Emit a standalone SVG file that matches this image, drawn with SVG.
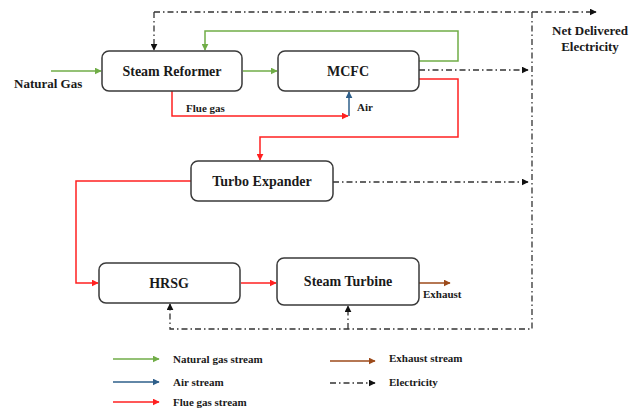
<svg xmlns="http://www.w3.org/2000/svg" width="642" height="411" viewBox="0 0 642 411">
  <style>
    .box { fill: #fff; stroke: #3a3a3a; stroke-width: 1.5; }
    .lbl { font-family: "Liberation Serif", "Times New Roman", serif; font-weight: bold; fill: #1a1a1a; }
    .big { font-size: 14px; text-anchor: middle; }
    .sm { font-size: 11px; }
    .ng { fill: none; stroke: #70ad47; stroke-width: 1.5; }
    .air { fill: none; stroke: #2e5f8a; stroke-width: 1.5; }
    .flue { fill: none; stroke: #ff2020; stroke-width: 1.5; }
    .exh { fill: none; stroke: #9c4a1a; stroke-width: 1.5; }
    .el { fill: none; stroke: #333; stroke-width: 1.3; stroke-dasharray: 6 3 1.5 3; }
  </style>
  <defs>
    <marker id="mNg" viewBox="0 0 10 10" refX="9" refY="5" markerWidth="7" markerHeight="7" markerUnits="userSpaceOnUse" orient="auto"><path d="M0,0 L10,5 L0,10 z" fill="#70ad47"/></marker>
    <marker id="mAir" viewBox="0 0 10 10" refX="9" refY="5" markerWidth="7" markerHeight="7" markerUnits="userSpaceOnUse" orient="auto"><path d="M0,0 L10,5 L0,10 z" fill="#2e5f8a"/></marker>
    <marker id="mFlue" viewBox="0 0 10 10" refX="9" refY="5" markerWidth="7" markerHeight="7" markerUnits="userSpaceOnUse" orient="auto"><path d="M0,0 L10,5 L0,10 z" fill="#ff2020"/></marker>
    <marker id="mExh" viewBox="0 0 10 10" refX="9" refY="5" markerWidth="7" markerHeight="7" markerUnits="userSpaceOnUse" orient="auto"><path d="M0,0 L10,5 L0,10 z" fill="#9c4a1a"/></marker>
    <marker id="mEl" viewBox="0 0 10 10" refX="9" refY="5" markerWidth="7" markerHeight="7" markerUnits="userSpaceOnUse" orient="auto"><path d="M0,0 L10,5 L0,10 z" fill="#111"/></marker>
  </defs>

  <!-- connectors -->
  <g id="connectors">
    <!-- natural gas -->
    <path class="ng" d="M51,71 H101" marker-end="url(#mNg)"/>
    <path class="ng" d="M243,71 H277" marker-end="url(#mNg)"/>
    <path class="ng" d="M419,61 H458 V31 H205 V50" marker-end="url(#mNg)"/>
    <!-- flue gas -->
    <path class="flue" d="M172,91 V116 H348" marker-end="url(#mFlue)"/>
    <path class="flue" d="M419,79 H458 V137 H260 V160" marker-end="url(#mFlue)"/>
    <path class="flue" d="M191,181 H76 V283 H98" marker-end="url(#mFlue)"/>
    <path class="flue" d="M241,283 H276" marker-end="url(#mFlue)"/>
    <!-- air -->
    <path class="air" d="M349,116 V92" marker-end="url(#mAir)"/>
    <!-- exhaust -->
    <path class="exh" d="M419,283 H450" marker-end="url(#mExh)"/>
    <!-- electricity -->
    <path class="el" d="M154,12 H596" marker-end="url(#mEl)"/>
    <path class="el" d="M154,12 V50" marker-end="url(#mEl)"/>
    <path class="el" d="M419,70 H528" marker-end="url(#mEl)"/>
    <path class="el" d="M333,182 H528" marker-end="url(#mEl)"/>
    <path class="el" d="M532,12 V329 H170 V304" marker-end="url(#mEl)"/>
    <path class="el" d="M348,329 V306" marker-end="url(#mEl)"/>
  </g>

  <!-- nodes -->
  <g id="steam-reformer">
    <rect class="box" x="102" y="51" width="140" height="40" rx="7"/>
    <text class="lbl big" x="172" y="76">Steam Reformer</text>
  </g>
  <g id="mcfc">
    <rect class="box" x="278" y="51" width="141" height="40" rx="7"/>
    <text class="lbl big" x="348" y="76">MCFC</text>
  </g>
  <g id="turbo-expander">
    <rect class="box" x="191" y="161" width="142" height="40" rx="7"/>
    <text class="lbl big" x="262" y="186">Turbo Expander</text>
  </g>
  <g id="hrsg">
    <rect class="box" x="99" y="263" width="141" height="40" rx="7"/>
    <text class="lbl big" x="169" y="288">HRSG</text>
  </g>
  <g id="steam-turbine">
    <rect class="box" x="277" y="258" width="142" height="47" rx="7"/>
    <text class="lbl big" x="348" y="286">Steam Turbine</text>
  </g>

  <!-- stream labels -->
  <text class="lbl" x="14" y="88" font-size="13">Natural Gas</text>
  <text class="lbl sm" x="186" y="112">Flue gas</text>
  <text class="lbl sm" x="357" y="111">Air</text>
  <text class="lbl sm" x="423" y="298">Exhaust</text>
  <text class="lbl" x="590" y="35" font-size="13" text-anchor="middle">Net Delivered</text>
  <text class="lbl" x="590" y="51" font-size="13" text-anchor="middle">Electricity</text>

  <!-- legend -->
  <g id="legend">
    <path class="ng" d="M113,359 H159" marker-end="url(#mNg)"/>
    <text class="lbl sm" x="173" y="363">Natural gas stream</text>
    <path class="air" d="M113,382 H159" marker-end="url(#mAir)"/>
    <text class="lbl sm" x="173" y="386">Air stream</text>
    <path class="flue" d="M113,402 H159" marker-end="url(#mFlue)"/>
    <text class="lbl sm" x="173" y="406">Flue gas stream</text>
    <path class="exh" d="M330,361 H375" marker-end="url(#mExh)"/>
    <text class="lbl sm" x="389" y="362">Exhaust stream</text>
    <path class="el" d="M330,383 H375" marker-end="url(#mEl)"/>
    <text class="lbl sm" x="389" y="386">Electricity</text>
  </g>
</svg>
